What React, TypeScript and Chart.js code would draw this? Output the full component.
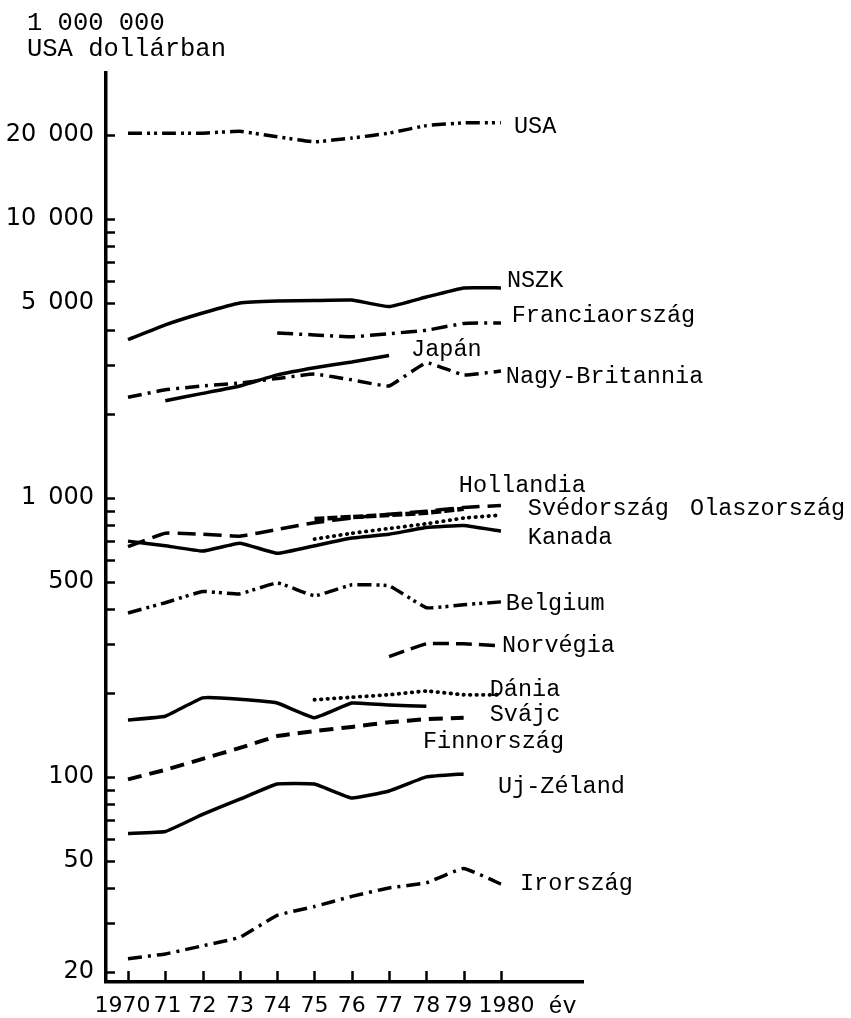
import React, { useEffect, useRef } from 'react';
import { Chart, registerables } from 'chart.js';

Chart.register(...registerables);

// ---- data ----
const years = [1970, 1971, 1972, 1973, 1974, 1975, 1976, 1977, 1978, 1979, 1980];
const xTickLabels = ['1970\u2002', '\u200971', '72', '73', '74', '75', '76', '77', '78', '79\u2002', '\u20021980'];

const usa = [20300, 20300, 20300, 20600, 19700, 18900, 19500, 20300, 21600, 22100, 22100];
const nszk = [3690, 4170, 4600, 5000, 5080, 5100, 5120, 4850, 5250, 5660, 5660];
const franciaorszag = [null, null, null, null, 3900, 3840, 3780, 3880, 3990, 4220, 4240];
const japan = [null, 2230, 2370, 2520, 2760, 2930, 3070, 3240, null, null, null];
const nagyBritannia = [2295, 2440, 2520, 2580, 2680, 2780, 2650, 2520, 3050, 2760, 2850];
const hollandia = [669, 747, 741, 729, 771, 815, 847, 874, 896, 924, 940];
const svedorszag = [null, null, null, null, null, 712, 747, 777, 808, 847, 868];
const olaszorszag = [null, null, null, null, null, 841, 854, 868, 885, 915, null];
const kanada = [700, 674, 645, 688, 633, 674, 718, 741, 783, 796, 760];
const belgium = [387, 421, 462, 453, 496, 446, 488, 484, 404, 414, 424];
const norvegia = [null, null, null, null, null, null, null, 270, 300, 300, 295];
const dania = [null, null, null, null, null, 189, 193, 197, 203, 197, 197];
const svajc = [160, 165, 192, 190, 184, 163, 184, 181, 179, null, null];
const finnorszag = [98, 106, 116, 127, 140, 146, 151, 157, 161, 163, null];
const ujZeland = [62.7, 63.7, 73.4, 83.2, 94.3, 94.3, 84, 89, 100, 102.5, null];
const irorszag = [22.3, 23.2, 24.8, 26.6, 31.9, 34.3, 37.3, 40.0, 41.7, 47.0, 41.3];

const yTickValues = [20, 30, 40, 50, 60, 70, 80, 90, 100, 200, 300, 400, 500, 600, 700, 800, 900,
  1000, 2000, 3000, 4000, 5000, 6000, 7000, 8000, 9000, 10000, 20000];
const yLabeledValues = [20, 50, 100, 500, 1000, 5000, 10000, 20000];

const titleLines = ['1 000 000', 'USA dollárban'];
const xUnit = 'év';

// label anchors in data coordinates (year, value)
const labelTexts = ['USA', 'NSZK', 'Franciaország', 'Japán', 'Nagy-Britannia', 'Hollandia', 'Svédország',
  'Olaszország', 'Kanada', 'Belgium', 'Norvégia', 'Dánia', 'Svájc', 'Finnország', 'Uj-Zéland', 'Irország'];
const labelYears = [1980.35, 1980.16, 1980.29, 1977.59, 1980.13, 1978.87, 1980.72,
  1985.07, 1980.72, 1980.13, 1980.03, 1979.7, 1979.7, 1977.91, 1979.92, 1980.51];
const labelValues = [21370, 5990, 4490, 3392, 2714, 1104, 913,
  913, 719, 417, 295, 205, 167, 133.5, 92, 41.4];

const fmtY = (v: number) => (v >= 1000 ? `${v / 1000}\u2002000` : String(v));

const series: { name: string; values: (number | null)[]; dash: number[]; width?: number; cap?: string }[] = [
  { name: 'USA', values: usa, dash: [14, 5, 3, 4, 3, 5] },
  { name: 'NSZK', values: nszk, dash: [] },
  { name: 'Franciaország', values: franciaorszag, dash: [16, 6, 3, 6] },
  { name: 'Japán', values: japan, dash: [] },
  { name: 'Nagy-Britannia', values: nagyBritannia, dash: [14, 6, 3, 6] },
  { name: 'Hollandia', values: hollandia, dash: [18, 8] },
  { name: 'Svédország', values: svedorszag, dash: [0.5, 6], width: 3.8, cap: 'round' },
  { name: 'Olaszország', values: olaszorszag, dash: [10, 3], width: 4.5 },
  { name: 'Kanada', values: kanada, dash: [] },
  { name: 'Belgium', values: belgium, dash: [14, 5, 3, 4, 3, 5] },
  { name: 'Norvégia', values: norvegia, dash: [16, 7] },
  { name: 'Dánia', values: dania, dash: [0.5, 6], width: 3.8, cap: 'round' },
  { name: 'Svájc', values: svajc, dash: [] },
  { name: 'Finnország', values: finnorszag, dash: [14, 8], width: 4 },
  { name: 'Uj-Zéland', values: ujZeland, dash: [] },
  { name: 'Irország', values: irorszag, dash: [14, 6, 3, 6] },
];

const decor = {
  id: 'decor',
  afterDraw(chart: any) {
    const { ctx, chartArea } = chart;
    const x = chart.scales.x;
    const y = chart.scales.y;
    ctx.save();
    ctx.strokeStyle = '#000';
    ctx.lineWidth = 2.5;
    yTickValues.forEach((v) => {
      const py = Math.round(y.getPixelForValue(v)) + 0.5;
      ctx.beginPath();
      ctx.moveTo(chartArea.left, py);
      ctx.lineTo(chartArea.left + 9, py);
      ctx.stroke();
    });
    years.forEach((v) => {
      const px = Math.round(x.getPixelForValue(v)) + 0.5;
      ctx.beginPath();
      ctx.moveTo(px, chartArea.bottom);
      ctx.lineTo(px, chartArea.bottom - 11);
      ctx.stroke();
    });
    ctx.fillStyle = '#000';
    ctx.textAlign = 'left';
    ctx.textBaseline = 'middle';
    ctx.font = '23.5px "Liberation Mono"';
    labelTexts.forEach((t, i) => {
      ctx.fillText(t, x.getPixelForValue(labelYears[i]), y.getPixelForValue(labelValues[i]));
    });
    ctx.textAlign = 'center';
    ctx.fillText(xUnit, x.getPixelForValue(1981.65), chartArea.bottom + 25);
    ctx.textAlign = 'left';
    ctx.textBaseline = 'alphabetic';
    ctx.font = '25.5px "Liberation Mono"';
    ctx.fillText(titleLines[0], 27, 30);
    ctx.fillText(titleLines[1], 27, 56);
    ctx.restore();
  },
};

export default function App() {
  const ref = useRef<HTMLCanvasElement>(null);
  useEffect(() => {
    const canvas = ref.current!;
    const chart = new Chart(canvas, {
      type: 'line',
      data: {
        datasets: series.map((s) => ({
          label: s.name,
          data: years.map((yr, i) => ({ x: yr, y: s.values[i] })),
          borderColor: '#000',
          borderWidth: s.width ?? 3.5,
          borderDash: s.dash,
          borderCapStyle: (s.cap ?? 'butt') as any,
          pointRadius: 0,
          tension: 0.1,
          fill: false,
          spanGaps: false,
        })),
      },
      options: {
        animation: false,
        responsive: false,
        devicePixelRatio: 1,
        layout: { padding: { left: 0, right: 268, top: 73, bottom: 0 } },
        plugins: { legend: { display: false }, tooltip: { enabled: false }, title: { display: false } },
        scales: {
          x: {
            type: 'linear',
            min: 1969.41,
            max: 1982.2,
            afterBuildTicks: (s: any) => {
              s.ticks = years.map((v) => ({ value: v }));
            },
            afterFit: (s: any) => {
              s.height = 36;
            },
            ticks: {
              autoSkip: false,
              maxRotation: 0,
              padding: 11,
              color: '#000',
              font: { family: 'DejaVu Sans', size: 22 },
              callback: (_v: any, i: number) => xTickLabels[i],
            },
            grid: { display: true, drawOnChartArea: false, drawTicks: false },
            border: { display: true, color: '#000', width: 3.5 },
          },
          y: {
            type: 'logarithmic',
            min: 18.4,
            max: 33350,
            afterBuildTicks: (s: any) => {
              s.ticks = yTickValues.map((v) => ({ value: v }));
            },
            afterFit: (s: any) => {
              s.width = 106;
            },
            ticks: {
              autoSkip: false,
              padding: 12,
              color: '#000',
              font: { family: 'DejaVu Sans', size: 24 },
              callback: (v: any) => (yLabeledValues.includes(Number(v)) ? fmtY(Number(v)) : ''),
            },
            grid: { display: true, drawOnChartArea: false, drawTicks: false },
            border: { display: true, color: '#000', width: 3.5 },
          },
        },
      },
      plugins: [decor],
    });
    return () => chart.destroy();
  }, []);
  return (
    <div style={{ position: 'fixed', left: 0, top: 0, width: 851, height: 1018, background: '#fff' }}>
      <canvas ref={ref} width={851} height={1018} style={{ display: 'block' }} />
    </div>
  );
}
